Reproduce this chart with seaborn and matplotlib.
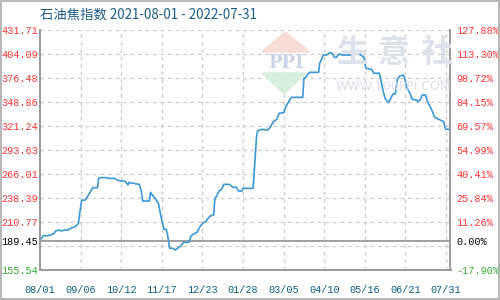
import numpy as np
import pandas as pd
import matplotlib
matplotlib.use("Agg")
import matplotlib.pyplot as plt
from matplotlib.patches import Polygon, Rectangle
import seaborn as sns

# ---------------- data ----------------
title = "石油焦指数 2021-08-01 - 2022-07-31"
start_date = "2021-08-01"
end_date = "2022-07-31"
day_offsets = [0, 3, 7, 12, 14, 17, 19, 22, 25, 28, 31, 34, 35, 37, 40, 42, 44, 45, 47, 51,
               52, 54, 59, 60, 66, 69, 71, 75, 77, 78, 79, 80, 88, 90, 91, 97, 98, 100, 102, 104,
               105, 107, 109, 110, 112, 113, 114, 115, 118, 120, 122, 125, 127, 132, 134, 136, 139, 141, 143, 145,
               147, 149, 151, 154, 155, 157, 159, 161, 163, 168, 171, 174, 176, 179, 180, 189, 190, 191, 192, 193,
               197, 202, 204, 207, 210, 212, 216, 218, 220, 222, 223, 233, 234, 236, 239, 247, 248, 250, 251, 254,
               257, 259, 261, 263, 265, 268, 277, 278, 283, 284, 287, 289, 294, 296, 301, 302, 304, 306, 309, 311,
               313, 315, 317, 319, 322, 323, 325, 328, 330, 334, 335, 337, 339, 342, 343, 346, 348, 350, 355, 358,
               359, 360, 364]
index_values = [189.45, 195.0, 195.0, 197.0, 200.4, 201.6, 200.4, 201.6, 201.6, 204.2, 205.0, 209.2, 218.8, 236.0, 236.0, 239.9, 243.8, 246.4, 250.3, 250.3,
                261.0, 261.8, 261.8, 261.0, 261.0, 259.1, 258.0, 258.0, 255.3, 253.3, 256.4, 256.0, 254.1, 245.6, 234.9, 234.9, 244.9, 241.0, 238.0, 234.2,
                232.3, 218.8, 207.3, 202.3, 202.3, 197.0, 188.1, 180.5, 180.5, 178.6, 180.5, 183.2, 187.4, 187.4, 194.7, 197.0, 198.5, 203.5, 207.3, 210.4,
                211.2, 215.0, 217.7, 218.8, 236.8, 241.8, 246.8, 248.3, 254.1, 254.1, 250.7, 250.7, 246.4, 246.4, 249.5, 249.5, 268.7, 287.9, 308.9, 315.8,
                317.4, 316.6, 319.7, 326.2, 329.0, 335.9, 336.6, 343.4, 348.1, 352.7, 354.2, 354.2, 376.1, 378.0, 383.0, 383.0, 393.4, 399.1, 402.9, 402.9,
                405.6, 404.9, 400.3, 400.3, 404.1, 402.9, 402.9, 407.9, 407.9, 402.9, 401.0, 387.6, 386.5, 381.9, 381.9, 376.1, 362.7, 353.1, 348.1, 353.1,
                358.1, 358.1, 375.0, 378.8, 379.9, 378.0, 366.5, 358.9, 352.0, 351.2, 349.2, 351.2, 356.9, 356.9, 351.2, 343.4, 337.7, 331.2, 328.1, 326.2,
                319.7, 317.4, 317.4]

base_value = 189.45
y_min, y_max = 155.54, 431.71
grid_values = [431.71, 404.09, 376.48, 348.86, 321.24, 293.63, 266.01, 238.39, 210.77, 183.16, 155.54]
left_tick_values = [431.71, 404.09, 376.48, 348.86, 321.24, 293.63, 266.01, 238.39, 210.77, 189.45, 155.54]
left_tick_labels = ["431.71", "404.09", "376.48", "348.86", "321.24", "293.63", "266.01", "238.39", "210.77", "189.45", "155.54"]
right_tick_labels = ["127.88%", "113.30%", "98.72%", "84.15%", "69.57%", "54.99%", "40.41%", "25.84%", "11.26%", "0.00%", "-17.90%"]
x_tick_offsets = [0, 36, 72, 108, 144, 180, 216, 252, 288, 324, 360]
x_tick_labels = ["08/01", "09/06", "10/12", "11/17", "12/23", "01/28", "03/05", "04/10", "05/16", "06/21", "07/31"]
watermark_chars = ["生", "意", "社"]

# ---------------- style ----------------
sns.set_style("white")
plt.rcParams['font.family'] = ['Noto Sans CJK SC', 'DejaVu Sans']

start = pd.Timestamp(start_date)
df = pd.DataFrame({
    "date": start + pd.to_timedelta(day_offsets, unit="D"),
    "value": index_values,
})

W, H = 500, 300
fig = plt.figure(figsize=(5, 3), dpi=100)
ax = fig.add_axes([40 / W, 1 - 270 / H, 410.5 / W, 240 / H])

def fx(px):
    return px / W

def fy(py):
    return 1 - py / H

red = "#ff3333"
green = "#33aa33"
blue_txt = "#0b5d8c"
grid_c = "#cccccc"
spine_c = "#999999"

# watermark (behind the data)
wm_kw = dict(transform=fig.transFigure, zorder=0)
fig.patches.append(Polygon([(fx(285), fy(32)), (fx(262), fy(52)), (fx(310), fy(52))],
                           closed=True, color="#f8dcd6", **wm_kw))
fig.patches.append(Polygon([(fx(262), fy(73)), (fx(306), fy(73)), (fx(284), fy(94))],
                           closed=True, color="#d9efdd", **wm_kw))
fig.text(fx(286), fy(63), "PPI", ha="center", va="center", fontsize=13,
         family="DejaVu Serif", fontweight="bold", color="#cbd3e6", zorder=0)
for ch, cx in zip(watermark_chars, [352, 394, 437]):
    fig.text(fx(cx), fy(53), ch, ha="center", va="center", fontsize=23,
             color="#dde1eb", fontweight="bold", zorder=0)
fig.text(fx(393), fy(87), "WWW.100PPI.COM", ha="center", va="center", fontsize=9,
         family="DejaVu Sans", color="#dcdfe8", zorder=0)

# grid
for gv in grid_values[:-1]:
    ax.axhline(gv, color=grid_c, lw=0.9, ls=(0, (3, 3)), zorder=1)
for off in x_tick_offsets[1:]:
    ax.axvline(start + pd.Timedelta(days=off), color=grid_c, lw=0.9, ls=(0, (3, 3)), zorder=1)
ax.axhline(base_value, color=spine_c, lw=1.3, zorder=2)

ax.patch.set_alpha(0)
sns.lineplot(data=df, x="date", y="value", ax=ax, color="#3a98d8", lw=1.2, zorder=3)

ax.set_xlim(start, pd.Timestamp(end_date))
ax.set_ylim(y_min, y_max)
ax.set_xlabel("")
ax.set_ylabel("")

ax.set_yticks(left_tick_values)
ax.set_yticklabels(left_tick_labels)
ax.set_xticks([start + pd.Timedelta(days=o) for o in x_tick_offsets])
ax.set_xticklabels(x_tick_labels)
ax.tick_params(axis="y", length=0, pad=1.5, labelsize=7.3)
ax.tick_params(axis="x", length=0, pad=11, labelsize=7.3, colors=blue_txt)
for lab in ax.get_yticklabels():
    lab.set_family("Liberation Mono")
for lab in ax.get_xticklabels():
    lab.set_family("Liberation Mono")

ax2 = ax.twinx()
ax2.patch.set_alpha(0)
ax2.set_ylim(y_min, y_max)
ax2.set_yticks(left_tick_values)
ax2.set_yticklabels(right_tick_labels)
ax2.tick_params(axis="y", length=0, pad=4, labelsize=7.3)
for lab in ax2.get_yticklabels():
    lab.set_family("Liberation Mono")

n = len(left_tick_labels)
for i, (l1, l2) in enumerate(zip(ax.get_yticklabels(), ax2.get_yticklabels())):
    if i == n - 1:
        c = green
    elif left_tick_values[i] == base_value:
        c = "black"
    else:
        c = red
    l1.set_color(c)
    l2.set_color(c)

for a in (ax, ax2):
    a.spines["top"].set_visible(False)
    for s in ("left", "right", "bottom"):
        a.spines[s].set_color(spine_c)
        a.spines[s].set_linewidth(1.2)

fig.text(fx(40), fy(15), title, ha="left", va="center", fontsize=9.6, color="#1a5c8a")

# outer frame
fig.patches.append(Rectangle((0.001, 0.002), 0.997, 0.996, transform=fig.transFigure,
                             fill=False, edgecolor="#aaaaaa", lw=1.2, zorder=10))

fig.savefig("out.png", dpi=100)
